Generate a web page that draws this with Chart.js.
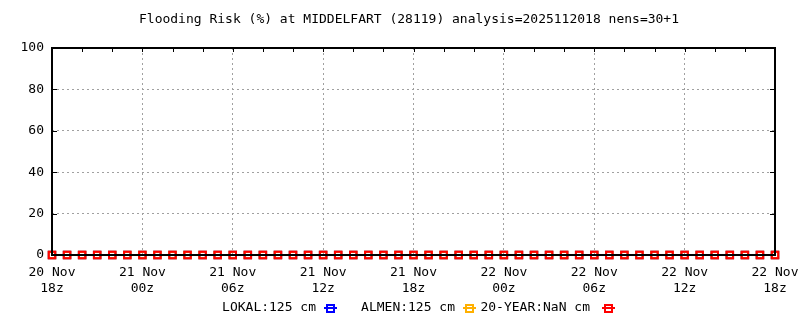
<!DOCTYPE html>
<html>
<head>
<meta charset="utf-8">
<script src="https://cdn.jsdelivr.net/npm/chart.js@4/dist/chart.umd.min.js"></script>
<style>
  html, body { margin: 0; padding: 0; background: #fff; }
  #wrap { width: 800px; height: 320px; }
</style>
</head>
<body>
<div id="wrap"><canvas id="chart"></canvas></div>
<script>
"use strict";

const titleText = "Flooding Risk (%) at MIDDELFART (28119) analysis=2025112018 nens=30+1";

// hours after 20 Nov 18z
const hours = [0, 1, 2, 3, 4, 5, 6, 7, 8, 9, 10, 11, 12, 13, 14, 15, 16, 17, 18, 19, 20, 21, 22, 23, 24,
  25, 26, 27, 28, 29, 30, 31, 32, 33, 34, 35, 36, 37, 38, 39, 40, 41, 42, 43, 44, 45, 46, 47, 48];

const lokal = [0, 0, 0, 0, 0, 0, 0, 0, 0, 0, 0, 0, 0, 0, 0, 0, 0, 0, 0, 0, 0, 0, 0, 0, 0,
  0, 0, 0, 0, 0, 0, 0, 0, 0, 0, 0, 0, 0, 0, 0, 0, 0, 0, 0, 0, 0, 0, 0, 0];
const almen = [0, 0, 0, 0, 0, 0, 0, 0, 0, 0, 0, 0, 0, 0, 0, 0, 0, 0, 0, 0, 0, 0, 0, 0, 0,
  0, 0, 0, 0, 0, 0, 0, 0, 0, 0, 0, 0, 0, 0, 0, 0, 0, 0, 0, 0, 0, 0, 0, 0];
const twentyYear = [0, 0, 0, 0, 0, 0, 0, 0, 0, 0, 0, 0, 0, 0, 0, 0, 0, 0, 0, 0, 0, 0, 0, 0, 0,
  0, 0, 0, 0, 0, 0, 0, 0, 0, 0, 0, 0, 0, 0, 0, 0, 0, 0, 0, 0, 0, 0, 0, 0];

const seriesLabels = ["LOKAL:125 cm", "ALMEN:125 cm", "20-YEAR:NaN cm"];
const seriesColors = ["#0000ff", "#ffb000", "#ff0000"];

const xTicks = [0, 6, 12, 18, 24, 30, 36, 42, 48];
const xTickLabels = [
  ["20 Nov", "18z"], ["21 Nov", "00z"], ["21 Nov", "06z"], ["21 Nov", "12z"], ["21 Nov", "18z"],
  ["22 Nov", "00z"], ["22 Nov", "06z"], ["22 Nov", "12z"], ["22 Nov", "18z"]
];

const FONT = "'DejaVu Sans Mono', monospace";

function pts(arr) {
  return hours.map((h, i) => ({ x: h, y: arr[i] }));
}

function ds(label, color, data, order) {
  return {
    label: label,
    data: pts(data),
    borderColor: color,
    backgroundColor: "#ffffff",
    borderWidth: 1,
    pointStyle: "rect",
    pointRadius: 4.6,
    pointBorderWidth: 2,
    pointBorderColor: color,
    pointBackgroundColor: "rgba(0,0,0,0)",
    clip: false,
    order: order
  };
}

// gnuplot-like frame, small ticks, title and legend
const frame = {
  id: "frame",
  afterDatasetsDraw(chart) {
    const ctx = chart.ctx;
    const a = chart.chartArea;
    const xs = chart.scales.x;
    const ys = chart.scales.y;
    ctx.save();
    ctx.strokeStyle = "#000";
    ctx.lineWidth = 1;
    ctx.beginPath();
    for (let h = 0; h <= 48; h += 2) {
      const px = Math.round(xs.getPixelForValue(h)) + 0.5;
      ctx.moveTo(px, a.top);
      ctx.lineTo(px, a.top + 4);
    }
    for (let v = 0; v <= 100; v += 20) {
      const py = Math.round(ys.getPixelForValue(v)) + 0.5;
      ctx.moveTo(a.left, py);
      ctx.lineTo(a.left + 5, py);
      ctx.moveTo(a.right, py);
      ctx.lineTo(a.right - 5, py);
    }
    ctx.stroke();
    ctx.lineWidth = 2;
    ctx.strokeRect(a.left, a.top, a.right - a.left, a.bottom - a.top);

    ctx.fillStyle = "#000";
    ctx.font = "13px " + FONT;
    ctx.textAlign = "center";
    ctx.textBaseline = "middle";
    ctx.fillText(titleText, 409, 20);

    // legend: text then sample
    const legendY = 308;
    const items = [
      { textEnd: 316, mark: 330 },
      { textEnd: 455, mark: 469 },
      { textEnd: 590, mark: 608 }
    ];
    ctx.textAlign = "right";
    items.forEach((it, i) => {
      ctx.fillStyle = "#000";
      ctx.fillText(seriesLabels[i], it.textEnd, legendY);
      ctx.strokeStyle = seriesColors[i];
      ctx.lineWidth = 2;
      ctx.beginPath();
      ctx.moveTo(it.mark - 6, legendY);
      ctx.lineTo(it.mark + 7, legendY);
      ctx.stroke();
      ctx.strokeRect(it.mark - 3, legendY - 3, 7, 7);
    });
    ctx.restore();
  }
};

new Chart(document.getElementById("chart"), {
  type: "line",
  data: {
    datasets: [
      ds(seriesLabels[0], seriesColors[0], lokal, 3),
      ds(seriesLabels[1], seriesColors[1], almen, 2),
      ds(seriesLabels[2], seriesColors[2], twentyYear, 1)
    ]
  },
  options: {
    responsive: true,
    maintainAspectRatio: false,
    animation: false,
    layout: { padding: { left: 0, right: 25, top: 48, bottom: 0 } },
    plugins: {
      legend: { display: false },
      title: { display: false },
      tooltip: { enabled: false }
    },
    scales: {
      x: {
        type: "linear",
        min: 0,
        max: 48,
        afterFit(scale) {
          scale.height = 65;
          scale.paddingLeft = 0;
          scale.paddingRight = 0;
        },
        afterBuildTicks(scale) { scale.ticks = xTicks.map(v => ({ value: v })); },
        grid: { color: "#a0a0a0", lineWidth: 1, drawTicks: false, tickLength: 0 },
        border: { display: false, dash: [2, 3] },
        ticks: {
          padding: 10,
          color: "#000",
          font: { family: FONT, size: 13, lineHeight: 1.23 },
          maxRotation: 0,
          autoSkip: false,
          callback: (v) => xTickLabels[xTicks.indexOf(v)]
        }
      },
      y: {
        min: 0,
        max: 100,
        afterFit(scale) {
          scale.width = 52;
          scale.paddingTop = 0;
          scale.paddingBottom = 0;
        },
        grid: { color: "#a0a0a0", lineWidth: 1, drawTicks: false, tickLength: 0 },
        border: { display: false, dash: [2, 3] },
        ticks: {
          stepSize: 20,
          padding: 8,
          color: "#000",
          font: { family: FONT, size: 13 }
        }
      }
    }
  },
  plugins: [frame]
});
</script>
</body>
</html>
